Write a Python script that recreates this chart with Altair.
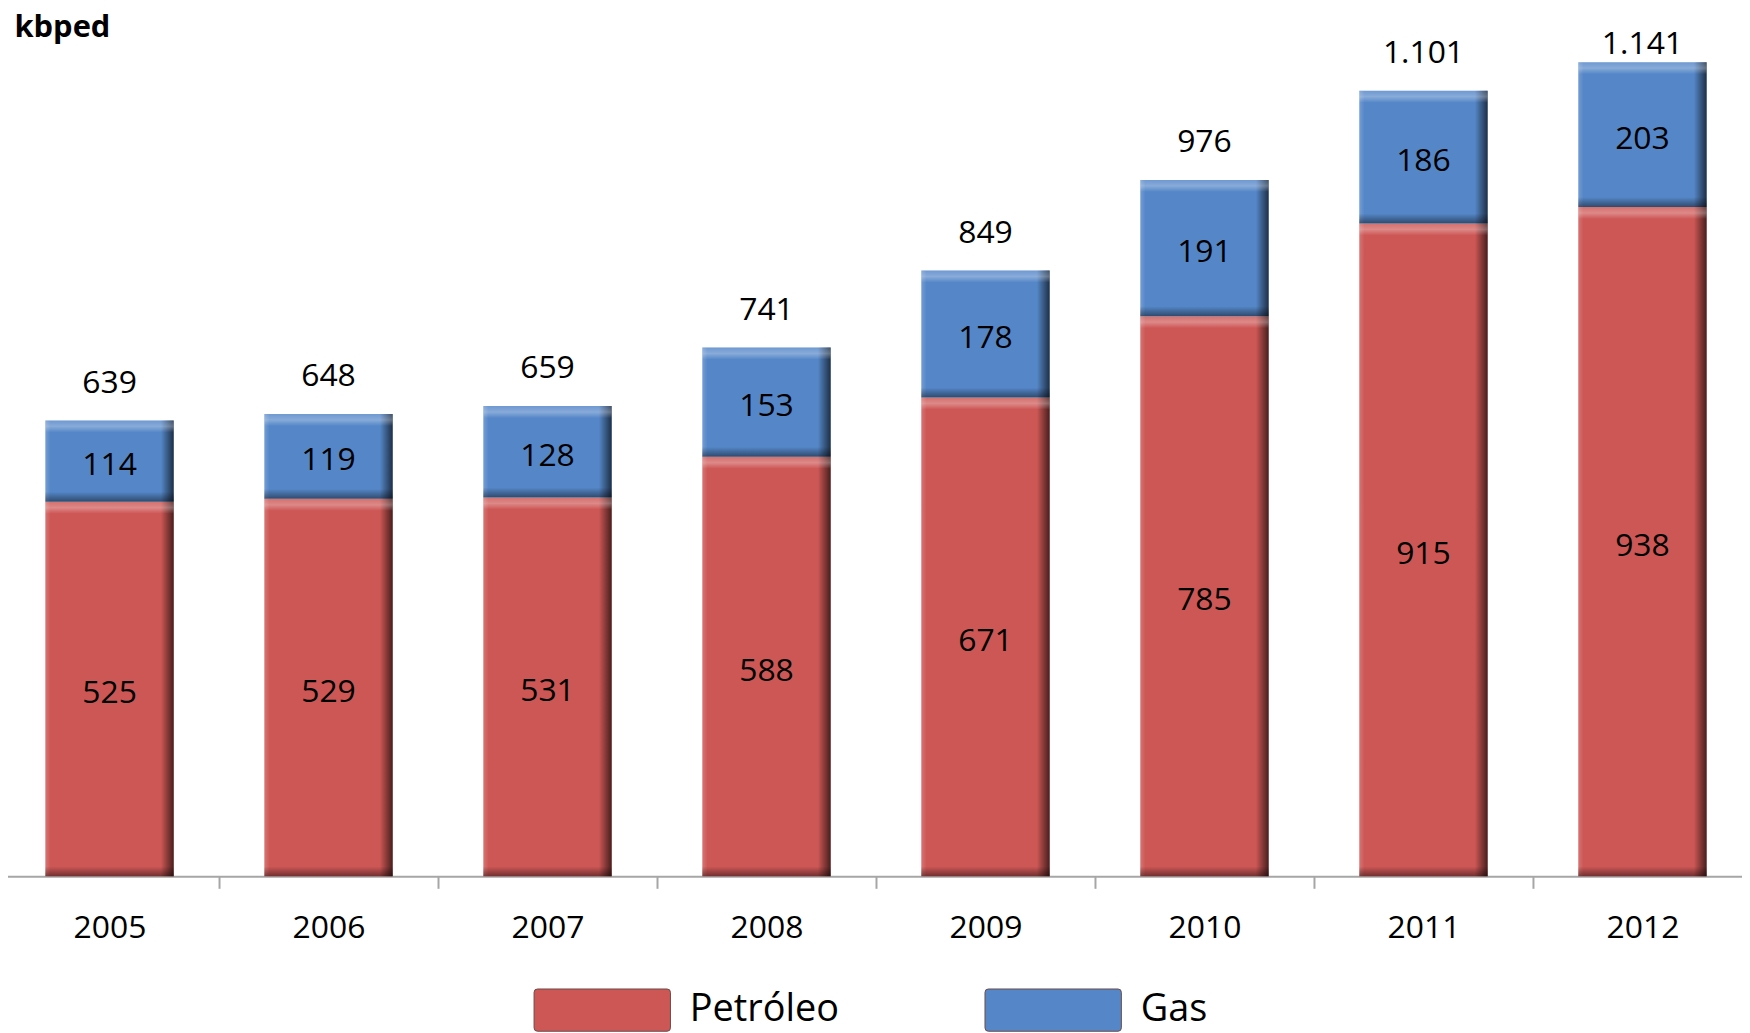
import altair as alt
import pandas as pd

years = ["2005", "2006", "2007", "2008", "2009", "2010", "2011", "2012"]
petroleo = [525, 529, 531, 588, 671, 785, 915, 938]
gas = [114, 119, 128, 153, 178, 191, 186, 203]
total_labels = ["639", "648", "659", "741", "849", "976", "1.101", "1.141"]
series = ["Petróleo", "Gas"]
colors = ["#CD5755", "#5587C8"]

rows = []
for i, yr in enumerate(years):
    base0 = 0
    for s, vals in zip(series, [petroleo, gas]):
        v = vals[i]
        rows.append({"year": yr, "serie": s, "value": v, "y0": base0, "y1": base0 + v,
                     "mid": base0 + v / 2, "label": str(v)})
        base0 += v
df = pd.DataFrame(rows)
tot = pd.DataFrame({"year": years, "total": [p + g for p, g in zip(petroleo, gas)], "label": total_labels})

FONT = "Open Sans"
xenc = alt.X("year:N", sort=years,
             scale=alt.Scale(range=[-8, 1752], paddingInner=0.414, paddingOuter=0.207),
             axis=alt.Axis(title=None, labelAngle=0, labelFontSize=32, labelColor="#000000",
                           labelFont=FONT, labelPadding=24, bandPosition=0, tickOffset=-45.5,
                           labelOffset=45.5, tickSize=12,
                           tickColor="#A6A6A6", tickWidth=2, domainColor="#A6A6A6", domainWidth=2,
                           grid=False))
yscale = alt.Scale(domain=[0, 1213.6], nice=False, zero=True)
yaxis = alt.Axis(title="kbped", titleAngle=0, titleX=6, titleY=26, titleAlign="left",
                 titleBaseline="alphabetic", titleFont=FONT, titleFontSize=31,
                 titleFontWeight="bold", titleColor="#000000", domain=False, ticks=False,
                 labels=False, grid=False)

swatch = ("M-0.95,-0.31H0.95Q1,-0.31 1,-0.26V0.26Q1,0.31 0.95,0.31"
          "H-0.95Q-1,0.31 -1,0.26V-0.26Q-1,-0.31 -0.95,-0.31Z")

base = alt.Chart(df)

bars = base.mark_bar().encode(
    x=xenc,
    y=alt.Y("y1:Q", scale=yscale, axis=yaxis),
    y2="y0:Q",
    color=alt.Color("serie:N", scale=alt.Scale(domain=series, range=colors),
                    sort=series,
                    legend=alt.Legend(title=None, orient="none", direction="horizontal",
                                      legendX=528, legendY=935,
                                      symbolType=swatch, symbolSize=18769,
                                      symbolStrokeWidth=1, symbolStrokeColor="#6B4A4A",
                                      symbolOpacity=1,
                                      labelFont=FONT, labelFontSize=38, labelColor="#000000",
                                      labelOffset=19, columnPadding=144)),
)

edge = base.mark_bar(fill={"gradient": "linear", "x1": 0, "y1": 0, "x2": 1, "y2": 0,
                           "stops": [{"offset": 0, "color": "rgba(255,255,255,0.18)"},
                                     {"offset": 0.04, "color": "rgba(255,255,255,0)"},
                                     {"offset": 0.9, "color": "rgba(0,0,0,0)"},
                                     {"offset": 1, "color": "rgba(0,0,0,0.65)"}]}).encode(
    x=xenc, y=alt.Y("y1:Q", scale=yscale), y2="y0:Q")

top = base.mark_bar(y2Offset=12, fill={"gradient": "linear", "x1": 0, "y1": 0, "x2": 0, "y2": 1,
                                      "stops": [{"offset": 0, "color": "rgba(255,255,255,0.15)"},
                                                {"offset": 0.5, "color": "rgba(255,255,255,0.3)"},
                                                {"offset": 1, "color": "rgba(255,255,255,0.0)"}]}).encode(
    x=xenc, y=alt.Y("y1:Q", scale=yscale), y2="y1:Q")

bottom = base.mark_bar(yOffset=-10, fill={"gradient": "linear", "x1": 0, "y1": 0, "x2": 0, "y2": 1,
                                         "stops": [{"offset": 0, "color": "rgba(0,0,0,0)"},
                                                   {"offset": 1, "color": "rgba(0,0,0,0.45)"}]}).encode(
    x=xenc, y=alt.Y("y0:Q", scale=yscale), y2="y0:Q")

seg_text = base.mark_text(font=FONT, fontSize=32, color="#000000", baseline="middle", dy=4).encode(
    x=xenc, y=alt.Y("mid:Q", scale=yscale), text="label:N")

tot_text = alt.Chart(tot).transform_calculate(
    ly="min(datum.total + 53, 1167)"
).mark_text(font=FONT, fontSize=32, color="#000000", baseline="middle").encode(
    x=xenc, y=alt.Y("ly:Q", scale=yscale), text="label:N")

chart = alt.layer(bars, edge, top, bottom, seg_text, tot_text).properties(
    width=1742, height=870,
    autosize=alt.AutoSizeParams(type="none"),
    padding={"left": 0, "top": 0, "right": 0, "bottom": 155},
).configure(font=FONT, view=alt.ViewConfig(strokeWidth=0, stroke="transparent"))

chart.save("out.html", embed_options={"renderer": "svg", "actions": False})
